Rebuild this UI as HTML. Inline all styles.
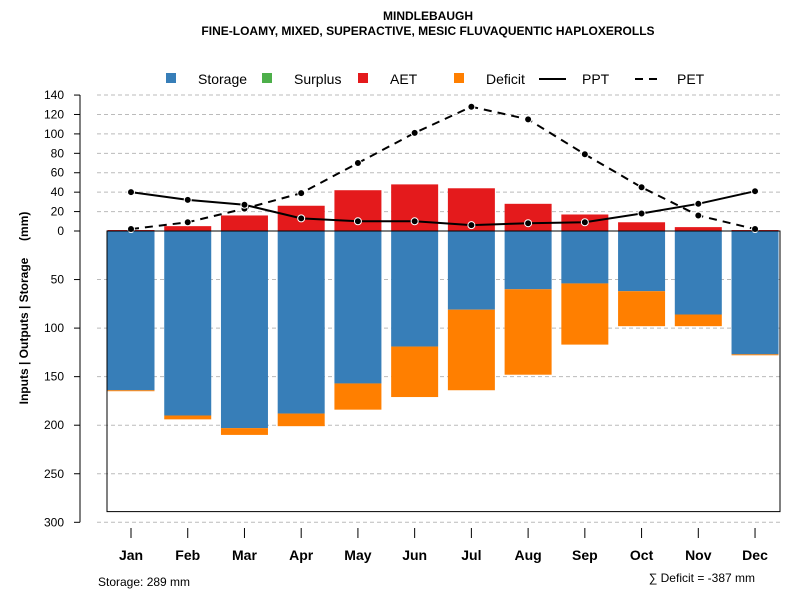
<!DOCTYPE html>
<html><head><meta charset="utf-8"><style>
body{margin:0;background:#fff;}
svg{display:block;font-family:"Liberation Sans",Arial,sans-serif;}
</style></head><body>
<svg id="chart" width="800" height="600" viewBox="0 0 800 600" xmlns="http://www.w3.org/2000/svg">
<text x="428" y="20" text-anchor="middle" font-size="12" font-weight="bold">MINDLEBAUGH</text>
<text x="428" y="35" text-anchor="middle" font-size="12" font-weight="bold">FINE-LOAMY, MIXED, SUPERACTIVE, MESIC FLUVAQUENTIC HAPLOXEROLLS</text>
<g font-size="14">
<rect x="166" y="73" width="10" height="10" fill="#377eb8"/>
<text x="198" y="84">Storage</text>
<rect x="262" y="73" width="10" height="10" fill="#4daf4a"/>
<text x="294" y="84">Surplus</text>
<rect x="358" y="73" width="10" height="10" fill="#e41a1c"/>
<text x="390" y="84">AET</text>
<rect x="454" y="73" width="10" height="10" fill="#ff7f00"/>
<text x="486" y="84">Deficit</text>
<line x1="539" y1="79" x2="566" y2="79" stroke="#000" stroke-width="2"/>
<text x="582" y="84">PPT</text>
<line x1="635" y1="79" x2="662" y2="79" stroke="#000" stroke-width="2" stroke-dasharray="8,6"/>
<text x="677" y="84">PET</text>
</g>
<text transform="translate(28,308) rotate(-90)" text-anchor="middle" font-size="12" font-weight="bold">Inputs | Outputs | Storage &#160;&#160;&#160;&#160;(mm)</text>
<text x="98" y="586" font-size="12">Storage: 289 mm</text>
<text x="755" y="582" text-anchor="end" font-size="12">∑ Deficit = -387 mm</text>
<g id="grid"></g><g id="bars"></g><g id="lines"></g><g id="axes"></g>
</svg>
<script>
const months=["Jan","Feb","Mar","Apr","May","Jun","Jul","Aug","Sep","Oct","Nov","Dec"];
const storage=[164,190,203,188,157,119,81,60,54,62,86,127];
const deficit=[1,4,7,13,27,52,83,88,63,36,12,1];
const aet=[1,5,16,26,42,48,44,28,17,9,4,1];
const ppt=[40,32,27,13,10,10,6,8,9,18,28,41];
const pet=[2,9,23,39,70,101,128,115,79,45,16,2];
const upTicks=[0,20,40,60,80,100,120,140];
const downTicks=[50,100,150,200,250,300];
const storageTotal=289;
const NS="http://www.w3.org/2000/svg";
const y0=231,k=0.971;
function yUp(v){return y0-v*k;}
function yDown(v){return y0+v*k;}
function xC(i){return 131+i*56.73;}
const bw=47;
function mk(t,a,p){const e=document.createElementNS(NS,t);for(const n in a)e.setAttribute(n,a[n]);document.getElementById(p).appendChild(e);return e;}
upTicks.forEach(v=>{
 if(v>0){const g=mk("line",{x1:97,x2:781,y1:yUp(v),y2:yUp(v),stroke:"#bbb","stroke-dasharray":"4,3"},"grid");
 
 }
 const t=mk("line",{x1:74,x2:80,y1:yUp(v),y2:yUp(v),stroke:"#000"},"axes");
 
 
 const l=mk("text",{x:64,y:yUp(v)+4,"text-anchor":"end","font-size":"12"},"axes");l.textContent=v;
 
 
});
downTicks.forEach(v=>{
 const g=mk("line",{x1:97,x2:781,y1:yDown(v),y2:yDown(v),stroke:"#bbb","stroke-dasharray":"4,3"},"grid");
 
 
 const t=mk("line",{x1:74,x2:80,y1:yDown(v),y2:yDown(v),stroke:"#000"},"axes");
 
 
 const l=mk("text",{x:64,y:yDown(v)+4,"text-anchor":"end","font-size":"12"},"axes");l.textContent=v;
 
 
});
const ax=mk("line",{x1:80,x2:80,y1:yUp(140),y2:yDown(300),stroke:"#000"},"axes");


const box=mk("rect",{x:107,y:y0,width:673,height:storageTotal*k,fill:"none",stroke:"#000"},"axes");


months.forEach((m,i)=>{
 const x=xC(i);
 const s=mk("rect",{x:x-bw/2,y:y0,width:bw,height:storage[i]*k,fill:"#377eb8"},"bars");
 
 
 const d=mk("rect",{x:x-bw/2,y:yDown(storage[i]),width:bw,height:deficit[i]*k,fill:"#ff7f00"},"bars");
 
 
 const a=mk("rect",{x:x-bw/2,y:yUp(aet[i]),width:bw,height:aet[i]*k,fill:"#e41a1c"},"bars");
 
 
 const t=mk("line",{x1:x,x2:x,y1:528,y2:538,stroke:"#000"},"axes");
 
 
 const l=mk("text",{x:x,y:560,"text-anchor":"middle","font-size":"14","font-weight":"bold"},"axes");l.textContent=m;
 
 
});
const zl=mk("line",{x1:107,x2:780,y1:y0,y2:y0,stroke:"#000"},"bars");


function series(vals,name,dash){
 const p=mk("polyline",{points:vals.map((v,i)=>xC(i)+","+yUp(v)).join(" "),fill:"none",stroke:"#000","stroke-width":2,"stroke-dasharray":dash},"lines");
 
 
 vals.forEach((v,i)=>{
  const c=mk("circle",{cx:xC(i),cy:yUp(v),r:3.5,fill:"#000",stroke:"#fff","stroke-width":1},"lines");
  
  
 });
}
series(pet,"pet","8,6");
series(ppt,"ppt","none");
</script>
</body></html>
